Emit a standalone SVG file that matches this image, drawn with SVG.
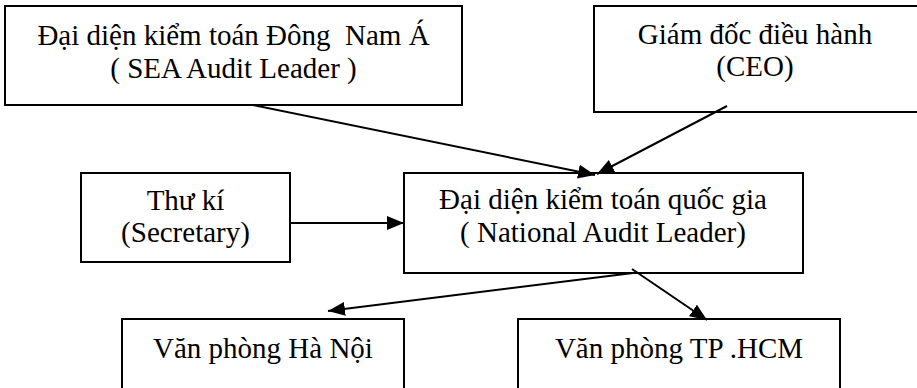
<svg xmlns="http://www.w3.org/2000/svg" width="917" height="388" viewBox="0 0 917 388">
<style>
.box{fill:#fff;stroke:#000;stroke-width:2}
.t{font-family:"Liberation Serif","Times New Roman",serif;font-size:29px;fill:#000;text-anchor:middle;white-space:pre}
.c{stroke:#000;stroke-width:2;fill:none;marker-end:url(#ah)}
</style>
<defs>
<marker id="ah" markerUnits="userSpaceOnUse" markerWidth="18" markerHeight="14" refX="17" refY="7" orient="auto">
<path d="M0,0 L17,7 L0,14 Z" fill="#000"/>
</marker>
</defs>
<g id="sea">
<rect class="box" x="5" y="6" width="457" height="99"/>
<text class="t" x="233.5" y="45" xml:space="preserve">Đại diện kiểm toán Đông  Nam Á</text>
<text class="t" x="233.5" y="78">( SEA Audit Leader )</text>
</g>
<g id="ceo">
<rect class="box" x="594" y="6" width="330" height="106"/>
<text class="t" x="755" y="44">Giám đốc điều hành</text>
<text class="t" x="755" y="76">(CEO)</text>
</g>
<g id="secretary">
<rect class="box" x="81" y="173" width="209" height="89"/>
<text class="t" x="185.5" y="210">Thư kí</text>
<text class="t" x="185.5" y="242">(Secretary)</text>
</g>
<g id="national">
<rect class="box" x="404" y="173" width="399" height="100"/>
<text class="t" x="603" y="209">Đại diện kiểm toán quốc gia</text>
<text class="t" x="603" y="242">( National Audit Leader)</text>
</g>
<g id="hanoi">
<rect class="box" x="122" y="319" width="282" height="90"/>
<text class="t" x="263" y="358">Văn phòng Hà Nội</text>
</g>
<g id="hcm">
<rect class="box" x="518" y="319" width="322" height="90"/>
<text class="t" x="679" y="358">Văn phòng TP .HCM</text>
</g>
<g id="connectors">
<line class="c" x1="253" y1="105" x2="595" y2="175"/>
<line class="c" x1="727" y1="106" x2="597" y2="174"/>
<line class="c" x1="290" y1="223" x2="404" y2="223"/>
<line class="c" x1="633" y1="273" x2="328" y2="311"/>
<line class="c" x1="632" y1="269" x2="707" y2="320"/>
</g>
</svg>
